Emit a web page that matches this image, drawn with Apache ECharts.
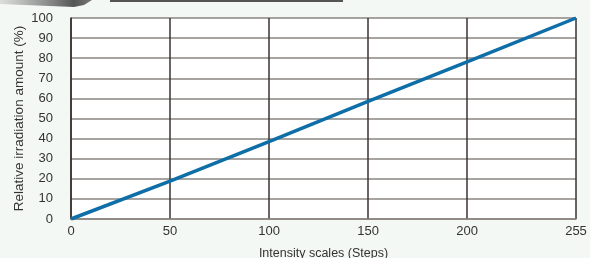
<!DOCTYPE html>
<html>
<head>
<meta charset="utf-8">
<script src="https://cdn.jsdelivr.net/npm/echarts@6/dist/echarts.min.js"></script>
<style>
  html, body { margin: 0; padding: 0; background: #f3f8f5; }
  #chart { width: 590px; height: 258px; }
</style>
</head>
<body>
<div id="chart"></div>
<script>
// intensity steps and relative irradiation (%)
const steps = [0, 50, 100, 150, 200, 255]
const irradiation = [0, 18.8, 38.5, 58.5, 78.2, 100]
const xTicks = [0, 50, 100, 150, 200, 255]

const chart = echarts.init(document.getElementById('chart'))

chart.setOption({
  backgroundColor: '#f3f8f5',
  animation: false,
  textStyle: { fontFamily: 'Liberation Sans, Arial, sans-serif' },
  graphic: [
    { // cropped swoosh at top left
      type: 'polygon',
      shape: { points: [[0, 0], [92, 0], [84, 5], [74, 7], [0, 4]] },
      style: {
        fill: new echarts.graphic.LinearGradient(0, 0, 1, 0, [
          { offset: 0, color: 'rgba(120,120,120,0.2)' },
          { offset: 0.8, color: '#555' },
          { offset: 1, color: '#777' }
        ])
      }
    },
    {
      type: 'rect',
      shape: { x: 110, y: 0, width: 233, height: 2 },
      style: { fill: '#555555' }
    }
  ],
  grid: {
    left: 71,
    right: 14,
    top: 18,
    bottom: 39,
    outerBoundsMode: 'none',
    containLabel: false,
    show: true,
    backgroundColor: '#ffffff',
    borderWidth: 0
  },
  xAxis: {
    type: 'value',
    min: 0,
    max: 255,
    name: 'Intensity scales (Steps)',
    nameLocation: 'middle',
    nameGap: 28,
    nameTextStyle: { fontSize: 12.5, color: '#333' },
    axisLine: { show: true, lineStyle: { color: '#8a8480', width: 1.5 } },
    axisTick: { show: false, customValues: xTicks },
    axisLabel: { customValues: xTicks, fontSize: 13, color: '#333', margin: 6 },
    splitLine: { show: true, lineStyle: { color: '#3a3232', width: 1.5 } }
  },
  yAxis: {
    type: 'value',
    min: 0,
    max: 100,
    interval: 10,
    name: 'Relative irradiation amount (%)',
    nameLocation: 'middle',
    nameGap: 45,
    nameMoveOverlap: false,
    nameTextStyle: { fontSize: 13.5, color: '#333' },
    axisLine: { show: true, lineStyle: { color: '#3a3232', width: 1.5 } },
    axisTick: { show: false },
    axisLabel: { fontSize: 13, color: '#333', margin: 18 },
    splitLine: { show: true, lineStyle: { color: '#8a8480', width: 1.5 } }
  },
  series: [
    {
      type: 'line',
      data: steps.map((s, i) => [s, irradiation[i]]),
      showSymbol: false,
      lineStyle: { color: '#0e6ea8', width: 3.5 },
      z: 5
    }
  ]
})
</script>
</body>
</html>
